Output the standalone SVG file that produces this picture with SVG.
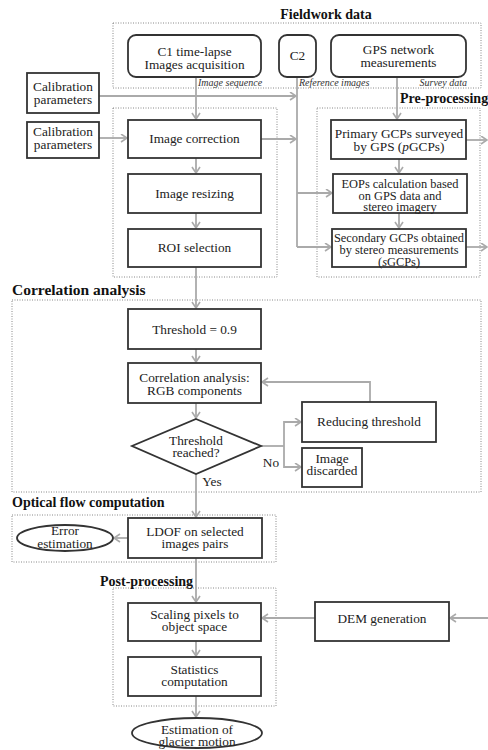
<svg xmlns="http://www.w3.org/2000/svg" width="488" height="750" viewBox="0 0 488 750">
<defs>
<marker id="ah" markerUnits="userSpaceOnUse" markerWidth="10" markerHeight="10" refX="7" refY="4.5" orient="auto">
<path d="M1,0.5 L7,4.5 L1,8.5" fill="none" stroke="#aaa" stroke-width="1.6"/>
</marker>
<style>
text{font-family:'Liberation Serif','DejaVu Serif','Times New Roman',Times,serif}
.t{font-size:13.3px;fill:#222;text-anchor:middle}
.s{font-size:12.4px}
.h{font-weight:bold;font-size:14px;fill:#111}
.i{font-style:italic;font-size:10px;fill:#333}
.b{fill:#fff;stroke:#333;stroke-width:1.8}
.d{fill:none;stroke:#888;stroke-width:1;stroke-dasharray:1,1.5}
.c{fill:none;stroke:#aaa;stroke-width:1.8}
.a{fill:none;stroke:#aaa;stroke-width:1.8;marker-end:url(#ah)}
</style>
</defs>
<rect width="488" height="750" fill="#fff"/>

<g id="groups">
<rect class="d" x="113" y="23" width="368" height="65"/>
<text class="h" x="326" y="19" text-anchor="middle">Fieldwork data</text>
<rect class="d" x="113" y="108" width="164" height="169"/>
<rect class="d" x="317" y="108" width="163" height="169"/>
<text class="h" x="400" y="103">Pre-processing</text>
<rect class="d" x="12" y="300" width="469" height="192"/>
<text class="h" x="12" y="295" style="font-size:15.5px">Correlation analysis</text>
<rect class="d" x="12" y="515" width="264" height="47"/>
<text class="h" x="12" y="507">Optical flow computation</text>
<rect class="d" x="113" y="588" width="163" height="118"/>
<text class="h" x="100" y="586">Post-processing</text>
</g>

<g id="connectors">
<line class="a" x1="196" y1="77" x2="196" y2="119"/>
<line class="a" x1="99" y1="96" x2="296" y2="96"/>
<line class="c" x1="297" y1="77" x2="297" y2="247"/>
<line class="a" x1="297" y1="193" x2="332" y2="193"/>
<line class="a" x1="297" y1="247" x2="331" y2="247"/>
<line class="a" x1="261" y1="139" x2="296" y2="139"/>
<line class="a" x1="397" y1="77" x2="397" y2="119"/>
<line class="a" x1="399" y1="159" x2="399" y2="173"/>
<line class="a" x1="399" y1="213" x2="399" y2="228"/>
<line class="a" x1="466" y1="140" x2="487" y2="140"/>
<line class="a" x1="466" y1="247" x2="487" y2="247"/>
<line class="a" x1="99" y1="138" x2="127" y2="138"/>
<line class="a" x1="196" y1="158" x2="196" y2="173"/>
<line class="a" x1="196" y1="213" x2="196" y2="228"/>
<line class="a" x1="196" y1="267" x2="196" y2="308"/>
<line class="a" x1="196" y1="349" x2="196" y2="362"/>
<line class="a" x1="196" y1="403" x2="196" y2="418"/>
<polyline class="c" points="261,446 284,446"/>
<polyline class="a" points="284,446 284,422 301,422"/>
<polyline class="a" points="284,446 284,467 301,467"/>
<polyline class="a" points="370,402 370,382 262,382"/>
<line class="a" x1="196" y1="474" x2="196" y2="517"/>
<line class="a" x1="128" y1="538" x2="114" y2="538"/>
<line class="a" x1="196" y1="558" x2="196" y2="602"/>
<line class="a" x1="315" y1="618" x2="262" y2="618"/>
<line class="a" x1="488" y1="618" x2="450" y2="618"/>
<line class="a" x1="196" y1="641" x2="196" y2="656"/>
<line class="a" x1="196" y1="696" x2="196" y2="717"/>
<text class="i" x="198" y="86">Image sequence</text>
<text class="i" x="299" y="86">Reference images</text>
<text class="i" x="467" y="86" text-anchor="end">Survey data</text>
<text class="t" x="271" y="467">No</text>
<text class="t" x="212" y="486">Yes</text>
</g>

<g id="c1"><rect class="b" x="128" y="35" width="133" height="42" rx="8"/>
<text class="t" x="194.5" y="56">C1 time-lapse<tspan x="194.5" dy="13">Images acquisition</tspan></text></g>
<g id="c2"><rect class="b" x="279" y="35" width="37" height="42" rx="8"/>
<text class="t" x="297.5" y="60">C2</text></g>
<g id="gps"><rect class="b" x="331" y="35" width="135" height="42" rx="8"/>
<text class="t" x="398.5" y="54">GPS network<tspan x="398.5" dy="13">measurements</tspan></text></g>

<g id="cal1"><rect class="b" x="27" y="73" width="72" height="40"/>
<text class="t" x="63" y="91">Calibration<tspan x="63" dy="13">parameters</tspan></text></g>
<g id="cal2"><rect class="b" x="27" y="122" width="72" height="36"/>
<text class="t" x="63" y="136">Calibration<tspan x="63" dy="13">parameters</tspan></text></g>

<g id="imgcorr"><rect class="b" x="128" y="120" width="133" height="38"/>
<text class="t" x="194.5" y="143">Image correction</text></g>
<g id="imgresize"><rect class="b" x="128" y="174" width="133" height="39"/>
<text class="t" x="194.5" y="198">Image resizing</text></g>
<g id="roi"><rect class="b" x="128" y="229" width="133" height="38"/>
<text class="t" x="194.5" y="252">ROI selection</text></g>

<g id="pgcp"><rect class="b" x="331" y="120" width="135" height="39"/>
<text class="t" x="399" y="138">Primary GCPs surveyed<tspan x="399" dy="13">by GPS (<tspan font-style="italic">p</tspan>GCPs)</tspan></text></g>
<g id="eop"><rect class="b" x="333" y="174" width="134" height="39"/>
<text class="t s" x="400" y="188">EOPs calculation based<tspan x="400" dy="11.5">on GPS data and</tspan><tspan x="400" dy="11.5">stereo imagery</tspan></text></g>
<g id="sgcp"><rect class="b" x="332" y="229" width="134" height="38"/>
<text class="t s" x="399" y="242">Secondary GCPs obtained<tspan x="399" dy="12">by  stereo measurements</tspan><tspan x="399" dy="11.5">(<tspan font-style="italic">s</tspan>GCPs)</tspan></text></g>

<g id="thr"><rect class="b" x="128" y="309" width="133" height="40"/>
<text class="t" x="194.5" y="334">Threshold = 0.9</text></g>
<g id="corr"><rect class="b" x="128" y="363" width="133" height="40"/>
<text class="t" x="194.5" y="382">Correlation analysis:<tspan x="194.5" dy="13">RGB components</tspan></text></g>
<g id="dec"><polygon class="b" points="196,419 261,446 196,474 132,446"/>
<text class="t" x="196" y="445">Threshold<tspan x="196" dy="12">reached?</tspan></text></g>
<g id="reduce"><rect class="b" x="302" y="402" width="134" height="40"/>
<text class="t" x="369" y="426">Reducing threshold</text></g>
<g id="discard"><rect class="b" x="302" y="448" width="60" height="39"/>
<text class="t" x="332" y="463">Image<tspan x="332" dy="12">discarded</tspan></text></g>

<g id="ldof"><rect class="b" x="128" y="518" width="134" height="40"/>
<text class="t" x="195" y="536">LDOF on selected<tspan x="195" dy="12">images pairs</tspan></text></g>
<g id="err"><ellipse class="b" cx="65" cy="538" rx="48" ry="13"/>
<text class="t" x="65" y="535">Error<tspan x="65" dy="13">estimation</tspan></text></g>

<g id="scale"><rect class="b" x="128" y="603" width="133" height="38"/>
<text class="t" x="194.5" y="619">Scaling pixels to<tspan x="194.5" dy="12">object space</tspan></text></g>
<g id="stats"><rect class="b" x="128" y="657" width="133" height="39"/>
<text class="t" x="194.5" y="674">Statistics<tspan x="194.5" dy="12">computation</tspan></text></g>
<g id="dem"><rect class="b" x="315" y="602" width="134" height="39"/>
<text class="t" x="382" y="623">DEM generation</text></g>
<g id="est"><ellipse class="b" cx="197" cy="733" rx="65" ry="15"/>
<text class="t" x="197" y="734">Estimation of<tspan x="197" dy="12">glacier motion</tspan></text></g>
</svg>
